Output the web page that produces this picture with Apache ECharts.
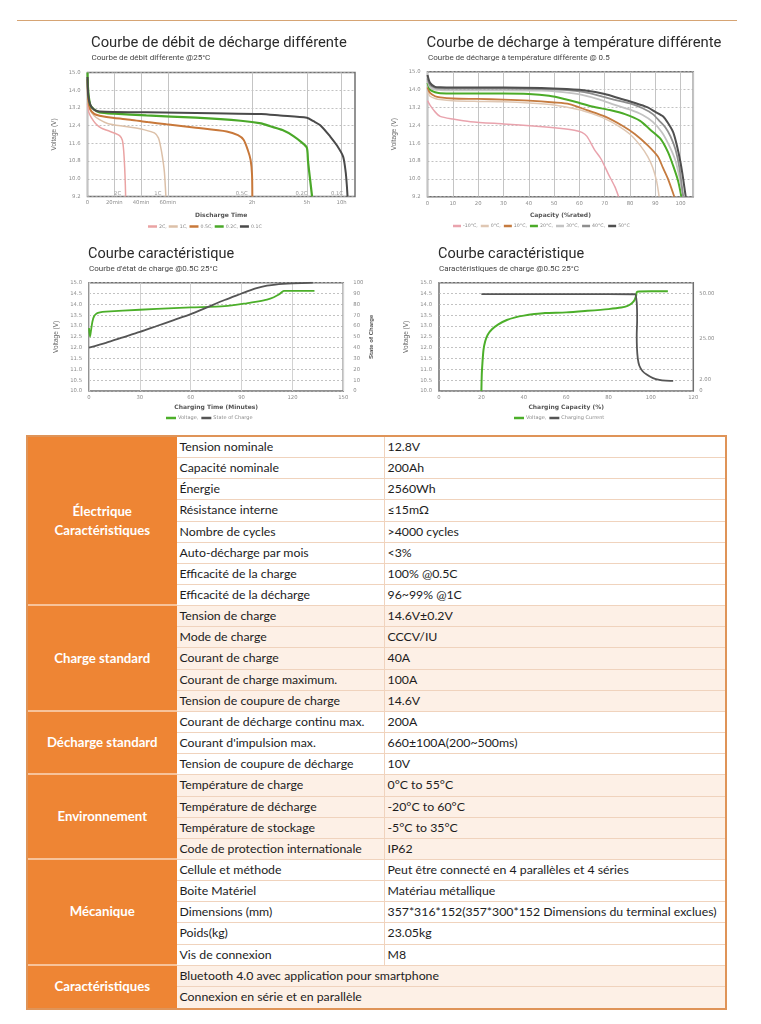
<!DOCTYPE html>
<html><head><meta charset="utf-8">
<script src="https://cdn.jsdelivr.net/npm/echarts@6/dist/echarts.min.js"></script>
<style>
html,body{margin:0;padding:0;background:#fff}
body{width:761px;height:1024px;overflow:hidden;position:relative;font-family:Lato,sans-serif}
#topline{position:absolute;left:17px;top:19.5px;width:720px;height:1.3px;background:#d6a474}
#chart{position:absolute;left:0;top:0;width:761px;height:432px}
#table{position:absolute;left:26px;top:435px;width:701px;height:575px;box-sizing:border-box;border:2px solid #df9458;background:#fff}
.c{position:absolute;box-sizing:border-box;white-space:nowrap;overflow:hidden}
.grp{background:#ee8534;color:#fff;font-weight:bold;font-size:13.2px;display:flex;align-items:center;justify-content:center;text-align:center;line-height:19px;border-bottom:2px solid #f7c39a}
.cell{font-size:12.3px;color:#1c1c1c;padding-left:3px;border-bottom:1.5px solid #f0d3bd}
.val{border-left:1.5px solid #f0d3bd}
</style></head><body>
<div id="chart"></div><div id="topline"></div><div id="table"></div>
<script>
// ---------- Chart 1 : discharge at different rates (x in minutes, y in V) ----------
const rateNames = ['2C', '1C', '0.5C', '0.2C', '0.1C'];
const rate2C = [[0,13.4],[1,13.0],[3,12.75],[6,12.5],[10,12.3],[15,12.18],[20,12.07],[24,11.95],[26,11.75],[27,11.3],[27.8,10.5],[28.3,9.7],[28.5,9.2]];
const rate1C = [[0,13.6],[2,13.1],[5,12.85],[9,12.67],[15,12.5],[27,12.37],[35,12.3],[42,12.22],[50,12.07],[53,11.85],[54.5,11.5],[56,11.0],[57.5,10.3],[58.6,9.2]];
const rate05C = [[0,14.5],[0.5,13.6],[2,13.15],[5,12.93],[9,12.85],[20,12.74],[32,12.67],[45,12.56],[59,12.46],[80,12.31],[102,12.14],[110,11.97],[114,11.76],[117,11.3],[119,10.85],[120,10.2],[121,9.2]];
const rate02C = [[0,14.8],[0.5,14.0],[2,13.35],[5,13.12],[9,13.0],[20,12.94],[44,12.86],[80,12.76],[112,12.62],[150,12.5],[180,12.37],[220,12.2],[256,11.93],[285,11.62],[300,11.4],[310,10.8],[325,10.1],[345,9.2]];
const rate01C = [[0,14.6],[0.5,13.8],[2,13.35],[5,13.12],[9,13.04],[44,13.0],[92,12.96],[150,12.93],[212,12.86],[300,12.76],[357,12.6],[420,12.4],[500,11.92],[560,11.5],[613,11.0],[635,10.3],[645,9.7],[651,9.2]];
const rateTickMinutes = [0, 20, 40, 60, 120, 300, 600];
const rateTickLabels = ['0', '20min', '40min', '60min', '2h', '5h', '10h'];

// ---------- Chart 2 : discharge at different temperatures (x in % rated, y in V) ----------
const tempNames = ['-10°C', '0°C', '10°C', '20°C', '30°C', '40°C', '50°C'];
const tempM10 = [[0,13.5],[1,13.3],[3,13.0],[5,12.8],[10,12.68],[17,12.56],[30,12.46],[43,12.36],[52,12.27],[58,12.18],[61,12.08],[63,11.9],[66,11.3],[68.5,10.9],[71.5,10.2],[74,9.65],[75.5,9.2]];
const temp0 = [[0,13.9],[1,13.7],[3,13.6],[5,13.55],[10,13.5],[20,13.47],[30,13.45],[40,13.4],[50,13.31],[60,13.1],[65,12.92],[70,12.7],[75,12.4],[80,12.0],[84,11.5],[87,11.0],[89,10.5],[90.5,9.9],[91.5,9.2]];
const temp10 = [[0,14.1],[1,13.85],[3,13.7],[5,13.65],[10,13.6],[20,13.58],[30,13.55],[40,13.5],[50,13.42],[56,13.35],[63,13.08],[70,12.8],[77,12.38],[82,12.0],[87,11.5],[91,11.0],[93,10.5],[95,10.0],[97.5,9.2]];
const temp20 = [[0,14.3],[1,14.0],[3,13.88],[5,13.84],[10,13.82],[20,13.82],[30,13.82],[40,13.8],[48,13.72],[54,13.58],[60,13.4],[65,13.24],[72,13.08],[78,12.9],[84,12.6],[88,12.2],[92,11.8],[95,11.2],[97,10.6],[99,9.9],[100.3,9.2]];
const temp30 = [[0,14.4],[1,14.1],[3,14.0],[5,13.98],[10,13.96],[30,13.96],[45,13.95],[51,13.91],[56,13.85],[61,13.76],[68,13.55],[74,13.31],[80,13.1],[85,12.86],[89,12.55],[92.5,12.1],[95,11.6],[97.7,10.9],[99.5,10.1],[101,9.2]];
const temp40 = [[0,14.5],[1,14.2],[3,14.08],[5,14.05],[10,14.04],[30,14.04],[45,14.02],[55,13.98],[62,13.88],[68,13.72],[74,13.54],[80,13.38],[85,13.16],[89,12.9],[92,12.55],[94,12.3],[96,11.9],[98,11.3],[99.5,10.5],[101,9.2]];
const temp50 = [[0,14.65],[1,14.3],[3,14.12],[5,14.1],[10,14.09],[30,14.09],[45,14.07],[55,14.02],[63,13.95],[70,13.8],[76,13.6],[82,13.4],[87,13.2],[90,13.0],[93,12.8],[95,12.5],[97,12.1],[98.5,11.5],[100,10.7],[101,10.0],[102,9.2]];

// ---------- Chart 3 : state of charge (x in minutes) ----------
const socVoltage = [[0,12.9],[0.6,12.5],[1.2,12.8],[2,13.2],[3,13.45],[4.5,13.58],[6.5,13.63],[10,13.66],[20,13.71],[40,13.79],[60,13.86],[80,13.92],[93,14.05],[100,14.14],[105,14.22],[109,14.33],[112,14.45],[114,14.58],[115,14.62],[120,14.62],[133,14.62]];
const socPercent = [[0,40],[10,44.5],[20,49.5],[30,54.5],[40,60],[50,65.5],[60,71],[70,77.5],[80,84],[90,90],[95,93],[100,95.5],[105,97.2],[110,98.3],[120,99.3],[132,100]];

// ---------- Chart 4 : charge characteristics (x in % capacity) ----------
const chgVoltage = [[20,10.0],[20.2,10.8],[20.5,11.3],[21,11.9],[21.8,12.3],[23,12.6],[25,12.85],[28,13.08],[32,13.28],[36,13.4],[40,13.48],[45,13.55],[50,13.6],[60,13.63],[70,13.7],[80,13.78],[86,13.85],[89,13.93],[91,14.05],[92.3,14.2],[93,14.4],[93.5,14.58],[100,14.6],[108,14.6]];
const chgCurrent = [[20,49.6],[40,49.6],[60,49.6],[80,49.6],[92.5,49.5],[93.3,45],[93.5,35],[93.3,27],[93.4,20],[93.8,14],[94.5,10],[96,7],[98,5],[101,3],[104,2],[107,1.6],[110.5,1.5]];
const currentTickValues = [2, 25, 50];

// ---------- texts ----------
const chartTitles = ['Courbe de débit de décharge différente', 'Courbe de décharge à température différente', 'Courbe caractéristique', 'Courbe caractéristique'];
const chartSubtitles = ['Courbe de débit différente @25°C', 'Courbe de décharge à température différente @ 0.5', "Courbe d'état de charge @0.5C 25°C", 'Caractéristiques de charge @0.5C 25°C'];
const xNames = ['Discharge Time', 'Capacity (%rated)', 'Charging Time (Minutes)', 'Charging Capacity (%)'];

// ---------- table ----------
const groupNames = ['Électrique\nCaractéristiques', 'Charge standard', 'Décharge standard', 'Environnement', 'Mécanique', 'Caractéristiques'];
const groupRows = [
  [['Tension nominale','12.8V'],['Capacité nominale','200Ah'],['Énergie','2560Wh'],['Résistance interne','≤15mΩ'],['Nombre de cycles','>4000 cycles'],['Auto-décharge par mois','<3%'],['Efficacité de la charge','100% @0.5C'],['Efficacité de la décharge','96~99% @1C']],
  [['Tension de charge','14.6V±0.2V'],['Mode de charge','CCCV/IU'],['Courant de charge','40A'],['Courant de charge maximum.','100A'],['Tension de coupure de charge','14.6V']],
  [['Courant de décharge continu max.','200A'],["Courant d'impulsion max.",'660±100A(200~500ms)'],['Tension de coupure de décharge','10V']],
  [['Température de charge','0°C to 55°C'],['Température de décharge','-20°C to 60°C'],['Température de stockage','-5°C to 35°C'],['Code de protection internationale','IP62']],
  [['Cellule et méthode','Peut être connecté en 4 parallèles et 4 séries'],['Boite Matériel','Matériau métallique'],['Dimensions (mm)','357*316*152(357*300*152 Dimensions du terminal exclues)'],['Poids(kg)','23.05kg'],['Vis de connexion','M8']],
  [['Bluetooth 4.0 avec application pour smartphone'],['Connexion en série et en parallèle']]
];

// ================= layout / style =================
const rateTickPos = [0, 20, 40, 60, 123, 164, 190];   // axis positions of the (broken) time scale
function warpTime(m) {
  const T = rateTickMinutes, P = rateTickPos;
  for (let i = 1; i < T.length; i++) if (m <= T[i]) return P[i-1] + (m - T[i-1]) * (P[i] - P[i-1]) / (T[i] - T[i-1]);
  const n = T.length - 1;
  return P[n] + (m - T[n]) * (P[n] - P[n-1]) / (T[n] - T[n-1]);
}

const tickFont = {fontFamily: 'DejaVu Sans', fontSize: 5.3, color: '#8c8c8c'};
const yNameStyle = {fontFamily: 'Liberation Sans', fontSize: 6.5, color: '#666'};
const xNameStyle = {fontFamily: 'DejaVu Sans', fontWeight: 'bold', fontSize: 6, color: '#555'};
const hSplit = {show: true, lineStyle: {color: '#b3b3b3', type: [2, 2], width: 0.8}};
const vSplit = {show: true, lineStyle: {color: '#c4c4c4', width: 1}};

const gridBoxes = [
  {left: 87.5, top: 72.5, width: 267.5, height: 124},
  {left: 427.5, top: 71.7, width: 265.8, height: 125},
  {left: 89, top: 282.7, width: 254.3, height: 108.3},
  {left: 439, top: 282.7, width: 254.3, height: 108.3}
];
const titlePos = [[91, 35.5], [426.5, 35.5], [88, 246.5], [438, 246.5]];
const subPos = [[91.5, 54.3], [428, 53.5], [89, 265.3], [439, 265.3]];
const titleSize = [14.8, 14.8, 14.5, 14.5];
const legendPos = [[148, 224], [453, 223.5], [166, 415.5], [514, 415.5]];
const legendLook = [
  {itemWidth: 9, itemGap: 2, fontSize: 4.7},
  {itemWidth: 8, itemGap: 3, fontSize: 4.7},
  {itemWidth: 10, itemGap: 3, fontSize: 5},
  {itemWidth: 10, itemGap: 3, fontSize: 5}
];

const title = [];
chartTitles.forEach((t, i) => {
  title.push({text: t, left: titlePos[i][0], top: titlePos[i][1], padding: 0,
    textStyle: {fontFamily: 'Roboto', fontWeight: 'normal', fontSize: titleSize[i], color: '#2b2b2b'}});
  title.push({text: chartSubtitles[i], left: subPos[i][0], top: subPos[i][1], padding: 0,
    textStyle: {fontFamily: 'Roboto', fontWeight: 'normal', fontSize: 8, color: '#444'}});
});

const grid = gridBoxes.map(g => Object.assign({}, g, {show: true, borderColor: '#707070', borderWidth: 1.5, backgroundColor: 'transparent'}));

function xAxisBase(i, extra) {
  return Object.assign({
    gridIndex: i, type: 'value', axisLine: {show: false}, axisTick: {show: false},
    axisLabel: Object.assign({margin: 4}, tickFont),
    name: xNames[i], nameLocation: 'middle', nameGap: 16, nameTextStyle: xNameStyle
  }, extra);
}
const xAxis = [
  xAxisBase(0, {min: 0, max: 200,
    axisTick: {show: false, customValues: rateTickPos},
    axisLabel: Object.assign({margin: 4, customValues: rateTickPos,
      formatter: v => { const k = rateTickPos.indexOf(v); return k >= 0 ? rateTickLabels[k] : ''; }}, tickFont),
    splitLine: vSplit}),
  xAxisBase(1, {min: 0, max: 105, interval: 10, axisLabel: Object.assign({margin: 4, showMaxLabel: false}, tickFont), splitLine: vSplit}),
  xAxisBase(2, {min: 0, max: 150, interval: 30, splitLine: {show: true, lineStyle: {color: '#d2d2d2', width: 1}}, nameGap: 13}),
  xAxisBase(3, {min: 0, max: 120, interval: 20, splitLine: {show: false}, nameGap: 13})
];

function voltAxis(i, min, max, step, fmt) {
  return {gridIndex: i, type: 'value', min, max, interval: step, axisLine: {show: false}, axisTick: {show: false},
    axisLabel: Object.assign({margin: 7, formatter: fmt}, tickFont), splitLine: hSplit,
    name: 'Voltage (V)', nameLocation: 'middle', nameGap: 29.5, nameRotate: 90, nameTextStyle: yNameStyle};
}
const v9fmt = v => (v > 14.79 ? '15.0' : v.toFixed(1));
const yAxis = [
  voltAxis(0, 9.2, 14.8, 0.8, v9fmt),
  voltAxis(1, 9.2, 14.8, 0.8, v9fmt),
  voltAxis(2, 10, 15, 0.5, v => v.toFixed(1)),
  {gridIndex: 2, type: 'value', position: 'right', min: 0, max: 100, interval: 10, axisLine: {show: false}, axisTick: {show: false},
    axisLabel: Object.assign({margin: 10}, tickFont), splitLine: {show: false},
    name: 'State of Charge', nameLocation: 'middle', nameGap: 25, nameRotate: 90,
    nameTextStyle: {fontFamily: 'Liberation Sans', fontWeight: 'bold', fontSize: 6, color: '#555'}},
  voltAxis(3, 10, 15, 0.5, v => v.toFixed(1)),
  {gridIndex: 3, type: 'value', position: 'right', min: -4.1, max: 55.9, axisLine: {show: false}, axisTick: {show: false},
    axisLabel: Object.assign({margin: 6, customValues: [-4.1].concat(currentTickValues),
      formatter: v => (v < 0 ? '0' : v.toFixed(2))}, tickFont), splitLine: {show: false}}
];

function line(name, xi, yi, data, color, width, extra) {
  return Object.assign({type: 'line', name, xAxisIndex: xi, yAxisIndex: yi, data, showSymbol: false, symbol: 'none',
    smooth: 0.25, lineStyle: {color, width}, itemStyle: {color}, animation: false, silent: true}, extra || {});
}
function rateSeries(k, arr, color, width) {
  const pts = arr.map(p => [warpTime(p[0]), p[1]]);
  const last = pts[pts.length - 1];
  return line(rateNames[k], 0, 0, pts, color, width, {
    markPoint: {symbol: 'circle', symbolSize: 0, silent: true, animation: false,
      data: [{coord: last}],
      label: {show: true, formatter: rateNames[k], position: 'left', distance: 4.5, offset: [0, -3],
        fontFamily: 'DejaVu Sans', fontSize: 5.3, color: '#9a9a9a'}}
  });
}

const series = [
  rateSeries(0, rate2C, '#eaa3a3', 1.5),
  rateSeries(1, rate1C, '#dcc0a8', 1.5),
  rateSeries(2, rate05C, '#c8783a', 2),
  rateSeries(3, rate02C, '#4aa829', 2.2),
  rateSeries(4, rate01C, '#4a4a4a', 2),
  line(tempNames[0], 1, 1, tempM10, '#e9a3ad', 1.5),
  line(tempNames[1], 1, 1, temp0, '#dfc7b3', 1.5),
  line(tempNames[2], 1, 1, temp10, '#c57b3f', 1.8),
  line(tempNames[3], 1, 1, temp20, '#4bab28', 2),
  line(tempNames[4], 1, 1, temp30, '#c3c3c3', 1.8),
  line(tempNames[5], 1, 1, temp40, '#8e8e8e', 1.8),
  line(tempNames[6], 1, 1, temp50, '#4f4f4f', 2),
  line('Voltage', 2, 2, socVoltage, '#4caf2a', 1.8),
  line('State of Charge', 2, 3, socPercent, '#555555', 1.8),
  line('Voltage ', 3, 4, chgVoltage, '#4caf2a', 2),
  line('Charging Current', 3, 5, chgCurrent, '#555555', 1.8, {smooth: 0.15})
];

function legendFor(names, i) {
  const lastName = names[names.length - 1];
  const lk = legendLook[i];
  return {data: names, left: legendPos[i][0], top: legendPos[i][1], padding: 0, orient: 'horizontal',
    icon: 'rect', itemWidth: lk.itemWidth, itemHeight: 2.5, itemGap: lk.itemGap, selectedMode: false,
    formatter: n => (n === lastName ? n.trim() : n.trim() + ','),
    textStyle: {fontFamily: 'DejaVu Sans', fontSize: lk.fontSize, color: '#8a8a8a', padding: [0, 0, 0, -3]}};
}
const legend = [legendFor(rateNames, 0), legendFor(tempNames, 1), legendFor(['Voltage', 'State of Charge'], 2), legendFor(['Voltage ', 'Charging Current'], 3)];

const chart = echarts.init(document.getElementById('chart'), null, {renderer: 'canvas'});
chart.setOption({animation: false, backgroundColor: 'transparent', title, grid, xAxis, yAxis, legend, series});

// ================= table =================
const tbl = document.getElementById('table');
const groupShade = [false, true, false, true, false, true];
const totalRows = groupRows.reduce((s, g) => s + g.length, 0);
const innerH = 575 - 4, innerW = 701 - 4;
const ROW_H = innerH / totalRows;
const COL1 = 148.5, COL2 = 207;
let r = 0;
groupRows.forEach((rows, gi) => {
  const g = document.createElement('div');
  g.className = 'c grp';
  g.style.left = '0px'; g.style.top = (r * ROW_H) + 'px';
  g.style.width = COL1 + 'px'; g.style.height = (rows.length * ROW_H) + 'px';
  if (gi === groupRows.length - 1) g.style.borderBottom = 'none';
  g.innerHTML = groupNames[gi].split('\n').join('<br>');
  tbl.appendChild(g);
  const bg = groupShade[gi] ? '#fdf0e6' : '#ffffff';
  rows.forEach((row, ri) => {
    const isLast = (r === totalRows - 1);
    const mk = (text, left, width, cls) => {
      const d = document.createElement('div');
      d.className = 'c cell' + (cls ? ' ' + cls : '');
      d.style.left = left + 'px'; d.style.top = (r * ROW_H) + 'px';
      d.style.width = width + 'px'; d.style.height = ROW_H + 'px';
      d.style.lineHeight = (ROW_H - 1.5) + 'px';
      d.style.background = bg;
      if (isLast) d.style.borderBottom = 'none';
      d.textContent = text;
      tbl.appendChild(d);
    };
    if (row.length === 2) {
      mk(row[0], COL1, COL2);
      mk(row[1], COL1 + COL2, innerW - COL1 - COL2, 'val');
    } else {
      mk(row[0], COL1, innerW - COL1);
    }
    r++;
  });
});
</script>
</body></html>
